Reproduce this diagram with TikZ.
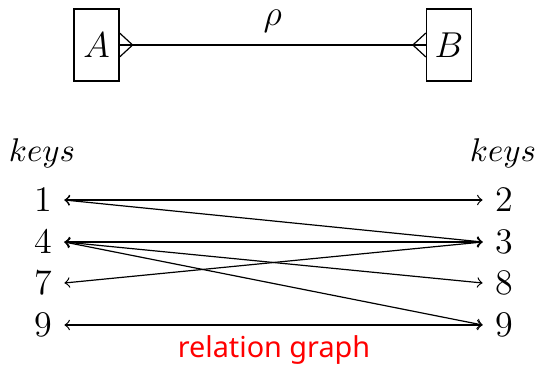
\documentclass[tikz,border=0pt]{standalone}
\usepackage{fontspec}
\newfontfamily\labelfont{Noto Sans}
\begin{document}
\begin{tikzpicture}[x=0.3333pt,y=-0.3333pt,
  entity/.style={draw, minimum width=15pt, minimum height=24pt, inner sep=0pt, font=\large},
  keynum/.style={inner sep=4pt, font=\large},
  keyhead/.style={font=\fontsize{10.6}{12}\selectfont},
  rel/.style={<->},
  >=to]
\useasboundingbox (0,0) rectangle (535,366);
\node[entity] (A) at (96.5,45) {$A$};
\node[entity] (B) at (449,45) {$B$};
\draw (A.east) -- node[above=0.5pt, font=\large] (rho) {$\rho$} (B.west);
\draw (A.east) ++(0,-12) -- ++(13,12) coordinate (ca) -- ++(-13,12);
\draw (B.west) ++(0,-12) -- ++(-13,12) coordinate (cb) -- ++(13,12);

\node[keyhead] (kl) at (42,153) {$keys$};
\node[keyhead] (kr) at (503,153) {$keys$};

\node[keynum] (l1) at (43,200) {$1$};
\node[keynum] (l4) at (43,242) {$4$};
\node[keynum] (l7) at (43,283) {$7$};
\node[keynum] (l9) at (43,325) {$9$};
\node[keynum] (r2) at (504,200) {$2$};
\node[keynum] (r3) at (504,242) {$3$};
\node[keynum] (r8) at (504,283) {$8$};
\node[keynum] (r9) at (504,325) {$9$};

\draw[rel] (l1.east) -- (r2.west);
\draw[rel] (l1.east) -- (r3.west);
\draw[rel] (l4.east) -- (r3.west);
\draw[rel] (l4.east) -- (r8.west);
\draw[rel] (l4.east) -- (r9.west);
\draw[rel] (l7.east) -- (r3.west);
\draw[rel] (l9.east) -- (r9.west);

\node[text=red, font=\labelfont\fontsize{9.6}{11}\selectfont] (title) at (274,350) {relation graph};
\end{tikzpicture}
\end{document}
